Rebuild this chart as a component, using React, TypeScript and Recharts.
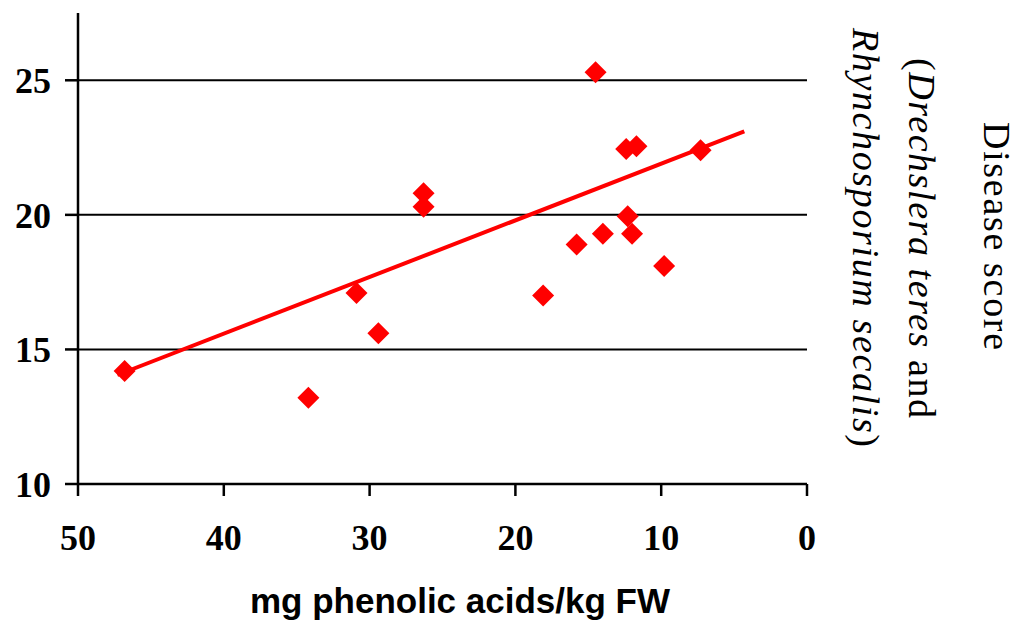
import React from 'react';
import { ScatterChart, Scatter, XAxis, YAxis, CartesianGrid } from 'recharts';

// phenolic acid content (mg/kg FW) vs disease score
const phenolic = [46.8, 34.2, 30.9, 29.4, 26.3, 26.3, 18.1, 15.8, 14.5, 14.0, 12.4, 11.7, 12.3, 12.0, 9.8, 7.3];
const disease = [14.2, 13.2, 17.1, 15.6, 20.8, 20.3, 17.0, 18.9, 25.3, 19.3, 22.45, 22.55, 19.95, 19.3, 18.1, 22.4];

// linear trend line end points
const trendX = [47.3, 4.3];
const trendY = [14.05, 23.1];

const xTicks = [0, 10, 20, 30, 40, 50];
const yTicks = [10, 15, 20, 25];
const gridValues = [15, 20, 25];

const points = phenolic.map((x, i) => ({ x, y: disease[i] }));
const trend = trendX.map((x, i) => ({ x, y: trendY[i] }));

const RED = '#ff0000';
const tickFont = { fill: '#000', fontSize: 36, fontWeight: 'bold', fontFamily: '"Liberation Serif", serif' };

const Diamond = (props: any) => {
  const { cx, cy } = props;
  if (cx == null || cy == null) return <g />;
  const w = 11;
  const h = 11;
  return <polygon points={`${cx},${cy - h} ${cx + w},${cy} ${cx},${cy + h} ${cx - w},${cy}`} fill={RED} />;
};

const NoDot = () => <g />;

export default function App() {
  return (
    <div style={{ position: 'absolute', left: 0, top: 0, width: 1019, height: 622, background: '#fff' }}>
      <ScatterChart width={1019} height={622} margin={{ top: 13, right: 212, bottom: 78, left: 8 }}>
        <CartesianGrid vertical={false} horizontalValues={gridValues} stroke="#000" strokeWidth={2} />
        <XAxis
          type="number"
          dataKey="x"
          domain={[0, 50]}
          reversed
          ticks={xTicks}
          interval={0}
          height={60}
          tickSize={12}
          tickMargin={28}
          tick={tickFont}
          axisLine={{ stroke: '#000', strokeWidth: 2.5 }}
          tickLine={{ stroke: '#000', strokeWidth: 2.5 }}
          allowDataOverflow
        />
        <YAxis
          type="number"
          dataKey="y"
          domain={[10, 27.5]}
          ticks={yTicks}
          interval={0}
          width={70}
          tickSize={13}
          tickMargin={14}
          tick={tickFont}
          axisLine={{ stroke: '#000', strokeWidth: 2.5 }}
          tickLine={{ stroke: '#000', strokeWidth: 2.5 }}
          allowDataOverflow
        />
        <Scatter data={trend} line={{ stroke: RED, strokeWidth: 4 }} shape={NoDot} isAnimationActive={false} />
        <Scatter data={points} shape={Diamond} isAnimationActive={false} />
      </ScatterChart>
      <svg width={1019} height={622} style={{ position: 'absolute', left: 0, top: 0, pointerEvents: 'none' }}>
        <text
          x={460}
          y={613}
          textAnchor="middle"
          fontFamily='"Liberation Sans", Arial, sans-serif'
          fontWeight="bold"
          fontSize={35}
          fill="#000"
        >
          mg phenolic acids/kg FW
        </text>
        <g fontFamily='"Liberation Serif", "Times New Roman", serif' fontSize={38} fill="#000">
          <text transform="translate(984,122) rotate(90)" textLength={228} lengthAdjust="spacing">
            Disease score
          </text>
          <text transform="translate(909,58) rotate(90)" textLength={360} lengthAdjust="spacing">
            (<tspan fontStyle="italic">Drechslera teres</tspan> and
          </text>
          <text transform="translate(853,28) rotate(90)" textLength={419} lengthAdjust="spacing">
            <tspan fontStyle="italic">Rhynchosporium secalis</tspan>)
          </text>
        </g>
      </svg>
    </div>
  );
}
